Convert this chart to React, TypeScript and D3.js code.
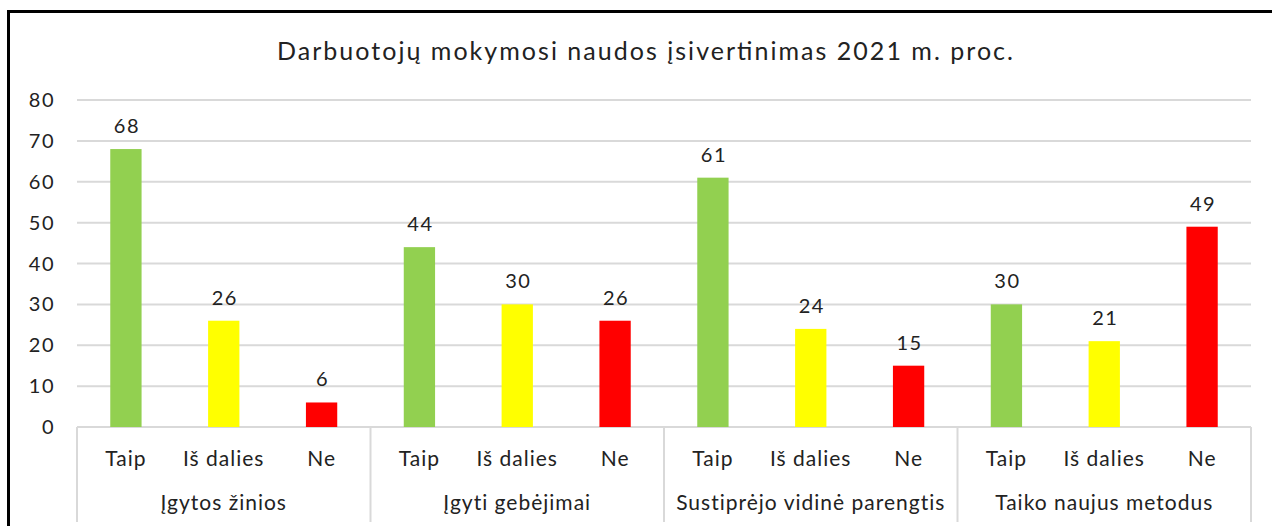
import React from 'react';
import * as d3 from 'd3';

// values (percent)
const groups = ['Įgytos žinios', 'Įgyti gebėjimai', 'Sustiprėjo vidinė parengtis', 'Taiko naujus metodus'];
const answers = ['Taip', 'Iš dalies', 'Ne'];
const taip = [68, 44, 61, 30];
const isDalies = [26, 30, 24, 21];
const ne = [6, 26, 15, 49];
const yTicks = [0, 10, 20, 30, 40, 50, 60, 70, 80];
const colors = ['#92d050', '#ffff00', '#ff0000'];

const W = 1272, H = 526;
const font = 'Lato, Carlito, Calibri, sans-serif';

export default function App() {
  const series = [taip, isDalies, ne];
  const y = d3.scaleLinear().domain([0, 80]).range([427, 100]);
  const gx = d3.scaleBand().domain(groups).range([77, 1251]);
  const ax = d3.scaleBand().domain(answers).range([0, gx.bandwidth()]).paddingInner(0.68).paddingOuter(0.34);

  // text in the reference is a bit wider than plain Lato, so letter spacing helps
  const lbl = { fontSize: 21, letterSpacing: 1, fill: '#222' };
  const num = { fontSize: 20, letterSpacing: 1.5, fill: '#222' };

  return (
    <svg width={W} height={H} style={{ position: 'absolute', left: 0, top: 0, fontFamily: font }}>
      <rect x={0} y={0} width={W} height={H} fill="#fff" />
      <path d="M8.5,530 V11.5 H1280" fill="none" stroke="#000" strokeWidth={3} />
      <text x={277} y={60} fontSize={25} fill="#222" textLength={736} lengthAdjust="spacing">
        Darbuotojų mokymosi naudos įsivertinimas 2021 m. proc.
      </text>
      {yTicks.map(t => (
        <g key={t}>
          <line x1={77} x2={1251} y1={y(t)} y2={y(t)} stroke="#d9d9d9" strokeWidth={2} />
          <text x={55} y={y(t) + 7} textAnchor="end" {...num}>{t}</text>
        </g>
      ))}
      {gx.domain().concat(['end']).map((g, i) => {
        const x = i < groups.length ? gx(g)! : 1251;
        return <line key={'s' + i} x1={x} x2={x} y1={427} y2={522} stroke="#d9d9d9" strokeWidth={2} />;
      })}
      {groups.map((g, gi) => (
        <g key={g} transform={`translate(${gx(g)},0)`}>
          {answers.map((a, ai) => {
            const v = series[ai][gi];
            const bx = ax(a)!;
            const cx = bx + ax.bandwidth() / 2;
            return (
              <g key={a}>
                <rect x={bx} y={y(v)} width={ax.bandwidth()} height={y(0) - y(v)} fill={colors[ai]} />
                <text x={cx + 1} y={y(v) - 16} textAnchor="middle" {...num}>{v}</text>
                <text x={cx} y={466} textAnchor="middle" {...lbl}>{a}</text>
              </g>
            );
          })}
          <text x={gx.bandwidth() / 2} y={510} textAnchor="middle" {...lbl}>{g}</text>
        </g>
      ))}
    </svg>
  );
}
